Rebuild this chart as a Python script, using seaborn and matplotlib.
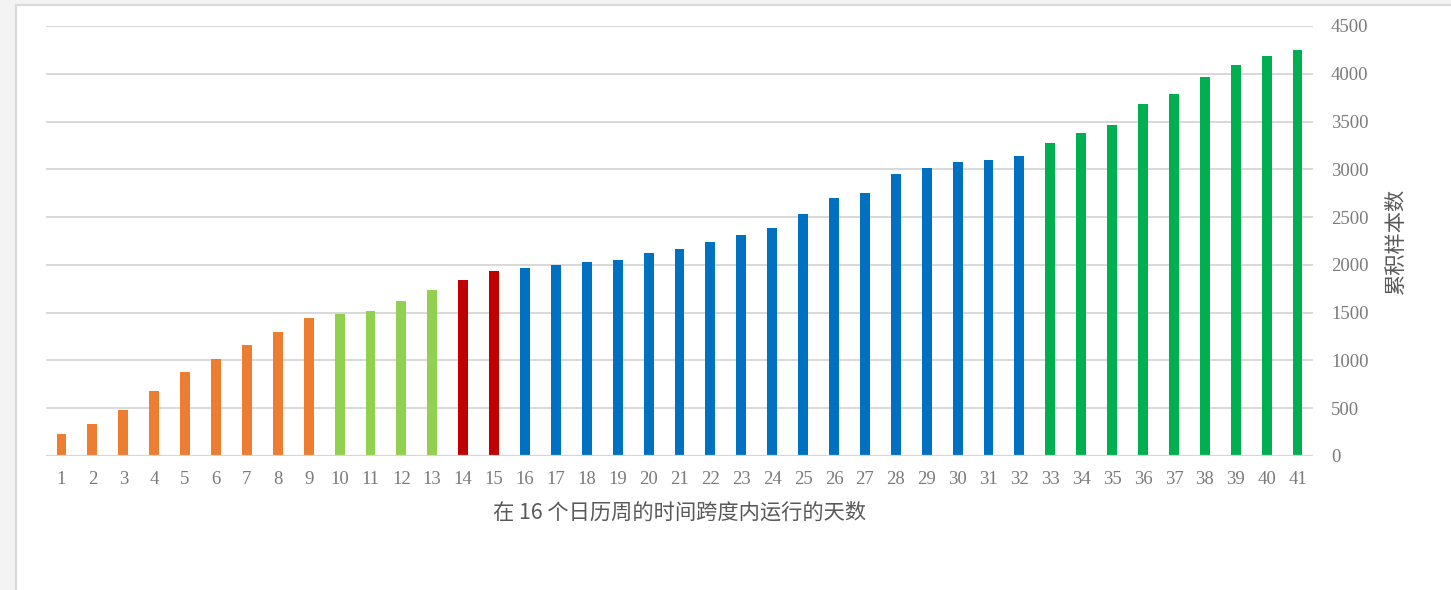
import matplotlib
matplotlib.use("Agg")
import matplotlib.pyplot as plt
import seaborn as sns
import pandas as pd

days = list(range(1, 42))
counts = [230, 338, 484, 683, 878, 1017, 1157, 1296, 1439,
          1488, 1519, 1624, 1739,
          1843, 1937,
          1972, 2003, 2035, 2056, 2129, 2171, 2244, 2317, 2390, 2537,
          2704, 2756, 2955, 3017, 3080, 3101, 3143,
          3271, 3385, 3469, 3688, 3792, 3969, 4094, 4188, 4250]
groups = (["a"] * 9 + ["b"] * 4 + ["c"] * 2 + ["d"] * 17 + ["e"] * 9)
group_colors = {"a": "#ED7D31", "b": "#92D050", "c": "#C00000",
                "d": "#0070C0", "e": "#00B050"}
y_ticks = [0, 500, 1000, 1500, 2000, 2500, 3000, 3500, 4000, 4500]
x_label = "在 16 个日历周的时间跨度内运行的天数"
y_label = "累积样本数"

df = pd.DataFrame({"day": [str(d) for d in days], "count": counts, "group": groups})

sns.set_theme(style="white")
plt.rcParams["font.family"] = ["Noto Sans CJK SC", "DejaVu Sans"]

W, H, DPI = 1451, 590, 100
fig = plt.figure(figsize=(W / DPI, H / DPI), dpi=DPI, facecolor="#F3F3F3")

# white chart panel with light border
panel = fig.add_axes([16 / W, 0, (W - 16) / W, (H - 5) / H])
panel.set_facecolor("white")
panel.set_xticks([]); panel.set_yticks([])
for side, sp in panel.spines.items():
    sp.set_color("#D9D9D9")
    sp.set_linewidth(1.5)
    if side in ("right", "bottom"):
        sp.set_visible(False)
panel.set_zorder(0)

left, right, top, bottom = 46, 1313, 26, 456
ax = fig.add_axes([left / W, 1 - bottom / H, (right - left) / W, (bottom - top) / H])
ax.set_zorder(1)
ax.patch.set_alpha(0)

sns.barplot(data=df, x="day", y="count", hue="group", palette=group_colors,
            dodge=False, width=0.32, legend=False, ax=ax, saturation=1,
            linewidth=0, gap=0)

ax.set_xlim(-0.5, len(days) - 0.5)
ax.set_ylim(0, 4500)
ax.set_yticks(y_ticks)
ax.yaxis.tick_right()
ax.yaxis.set_label_position("right")
ax.grid(axis="y", color="#D6D6D6", linewidth=1.3)
ax.set_axisbelow(True)
for s in ax.spines.values():
    s.set_visible(False)
ax.axhline(0, color="#D6D6D6", linewidth=1.6, zorder=3)

ax.tick_params(axis="both", length=0, colors="#7F7F7F", labelsize=13.5)
ax.tick_params(axis="y", pad=13)
ax.tick_params(axis="x", pad=11)
for lab in ax.get_xticklabels() + ax.get_yticklabels():
    lab.set_family(["Liberation Serif", "DejaVu Serif"])
    lab.set_color("#7A7A7A")

ax.set_xlabel(x_label, fontsize=15.3, color="#595959", labelpad=10)
ax.set_ylabel(y_label, fontsize=15.3, color="#595959", labelpad=12)

fig.savefig("out.png", dpi=DPI, facecolor=fig.get_facecolor())
